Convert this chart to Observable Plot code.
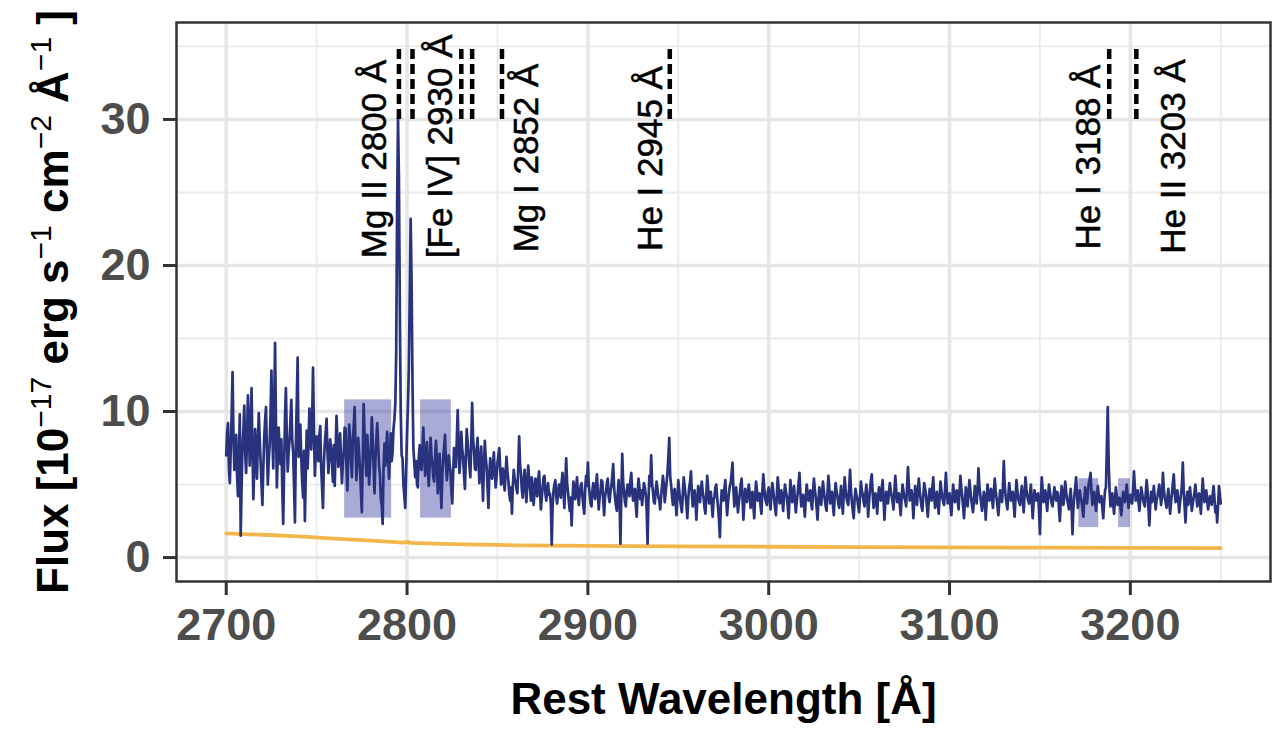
<!DOCTYPE html>
<html>
<head>
<meta charset="utf-8">
<script src="https://cdn.jsdelivr.net/npm/d3@7"></script>
<script src="https://cdn.jsdelivr.net/npm/@observablehq/plot@0.6"></script>
<style>
  html, body { margin: 0; padding: 0; background: white; }
</style>
</head>
<body>
<div id="chart"></div>
<script>
// ---- Data ----
const specStart = 2700; // Å
const specStep = 0.5;   // Å per sample
const specFlux = [
  7.0, 8.6, 9.2, 6.1, 5.1, 7.4, 9.8, 12.7, 8.3, 6.0, 7.9, 8.4, 5.6, 4.2, 6.8, 9.8, 1.5, 4.9, 7.6, 8.8,
  10.4, 7.2, 5.8, 8.1, 11.1, 9.0, 6.3, 8.7, 11.6, 7.5, 4.0, 6.2, 8.8, 7.1, 5.4, 7.9, 9.9, 8.2, 6.6, 5.0,
  3.6, 6.1, 8.2, 9.4, 10.3, 7.3, 5.0, 6.6, 7.7, 9.9, 12.8, 8.5, 6.1, 10.0, 14.7, 9.2, 4.8, 6.9, 8.9, 7.5,
  6.4, 8.1, 4.7, 2.3, 6.0, 9.6, 11.6, 8.3, 5.9, 7.2, 8.0, 9.4, 10.8, 8.1, 7.2, 4.9, 2.4, 7.7, 10.6, 13.7,
  6.9, 8.0, 9.1, 6.8, 5.2, 4.1, 7.3, 2.5, 5.8, 8.7, 6.1, 7.8, 10.2, 8.5, 7.4, 9.3, 13.0, 8.8, 5.6, 7.0,
  8.3, 7.1, 6.6, 8.4, 9.0, 6.2, 4.8, 3.4, 6.5, 7.8, 8.6, 9.5, 7.2, 5.8, 6.9, 8.1, 7.3, 6.4, 5.2, 7.7,
  4.9, 7.4, 9.7, 8.0, 6.2, 7.0, 8.5, 6.6, 5.1, 6.4, 7.3, 8.9, 8.8, 6.2, 4.6, 7.1, 9.1, 8.2, 6.7, 5.5,
  7.9, 9.0, 10.3, 7.6, 5.3, 6.8, 8.2, 7.1, 6.0, 4.5, 3.1, 6.7, 10.5, 8.4, 6.9, 5.6, 8.4, 7.2, 5.0, 6.3,
  7.4, 9.6, 8.1, 6.2, 4.4, 6.7, 8.0, 9.2, 7.8, 6.3, 5.7, 4.0, 3.6, 2.3, 6.1, 7.8, 6.3, 7.4, 8.6, 7.0,
  5.4, 7.0, 8.5, 6.6, 7.2, 8.8, 9.5, 10.5, 14.0, 24.0, 30.1, 26.0, 17.0, 10.0, 7.0, 6.8, 5.0, 4.2, 3.4, 6.0,
  8.5, 10.5, 13.0, 18.0, 23.2, 19.0, 12.0, 7.5, 6.5, 5.5, 6.6, 5.0, 4.8, 6.9, 7.7, 6.2, 6.0, 7.4, 8.9, 7.0,
  5.6, 6.8, 7.9, 6.1, 4.9, 6.3, 8.2, 7.0, 6.4, 5.5, 5.2, 6.8, 8.0, 6.6, 4.4, 5.9, 7.1, 5.2, 3.4, 5.6,
  6.8, 7.6, 8.4, 6.5, 5.3, 6.1, 7.0, 6.4, 5.9, 4.6, 3.7, 5.8, 7.5, 6.9, 6.2, 8.0, 10.1, 7.8, 5.8, 6.7,
  8.6, 7.4, 6.9, 5.6, 4.7, 6.8, 8.8, 7.9, 7.1, 6.3, 5.5, 7.9, 10.6, 8.2, 7.3, 6.1, 6.0, 7.4, 8.2, 6.6,
  5.1, 6.5, 7.6, 5.8, 3.9, 6.2, 8.0, 6.9, 6.2, 4.8, 3.4, 5.7, 6.8, 6.0, 5.4, 6.3, 7.2, 5.9, 4.8, 5.5,
  6.5, 7.0, 7.5, 6.1, 5.0, 5.7, 6.1, 5.2, 4.6, 5.8, 6.9, 5.9, 5.3, 4.4, 3.9, 4.8, 3.0, 4.9, 6.0, 5.4,
  5.2, 4.7, 4.4, 6.2, 8.3, 6.4, 5.7, 4.6, 4.1, 5.3, 6.0, 4.9, 3.8, 5.1, 6.3, 5.4, 4.7, 3.9, 5.5, 4.8,
  3.6, 4.5, 5.4, 4.7, 4.2, 5.3, 5.9, 4.6, 3.3, 4.1, 4.8, 5.5, 5.6, 4.4, 3.9, 4.6, 5.1, 4.3, 4.4, 3.7,
  0.9, 3.5, 4.6, 5.0, 5.3, 4.2, 3.7, 4.4, 5.0, 4.7, 4.1, 5.2, 5.8, 4.5, 3.4, 4.9, 6.8, 5.1, 4.5, 3.8,
  3.2, 4.1, 2.2, 3.9, 5.2, 4.6, 4.0, 4.8, 5.5, 4.3, 3.6, 4.4, 4.9, 5.1, 4.2, 3.5, 3.0, 4.7, 5.6, 4.9,
  6.5, 5.0, 4.3, 3.7, 3.5, 4.6, 5.1, 4.4, 4.0, 4.9, 5.7, 4.5, 3.3, 4.1, 4.6, 5.3, 5.2, 3.9, 2.9, 4.2,
  4.5, 5.1, 5.4, 4.2, 3.8, 4.5, 4.9, 5.6, 6.4, 4.8, 4.1, 3.6, 3.2, 4.4, 5.3, 4.0, 0.95, 4.3, 7.1, 5.2,
  4.4, 3.8, 3.5, 4.6, 5.0, 4.7, 4.2, 5.2, 5.8, 4.5, 3.9, 4.3, 4.7, 3.6, 2.8, 4.4, 5.4, 4.8, 4.0, 4.6,
  3.6, 4.4, 5.1, 4.8, 4.3, 3.3, 0.95, 3.9, 5.6, 4.9, 7.0, 5.1, 4.5, 3.8, 3.7, 4.6, 5.2, 4.7, 4.1, 3.9,
  3.3, 4.2, 4.9, 5.6, 5.0, 3.8, 4.4, 5.1, 5.8, 6.9, 8.2, 5.6, 5.0, 4.3, 3.6, 4.5, 4.7, 3.8, 2.9, 4.1,
  5.3, 4.6, 4.0, 3.5, 3.1, 4.4, 5.5, 4.9, 4.3, 3.6, 2.7, 4.0, 4.8, 5.2, 5.9, 4.4, 3.5, 4.2, 4.6, 3.9,
  2.6, 3.9, 4.9, 4.4, 3.8, 4.6, 5.2, 4.5, 4.1, 3.4, 3.0, 4.3, 5.6, 4.8, 3.7, 4.1, 4.5, 3.6, 2.8, 3.9,
  4.2, 4.8, 5.0, 4.1, 3.4, 2.6, 1.4, 3.5, 4.6, 4.2, 3.9, 4.7, 5.3, 4.0, 2.9, 3.8, 4.4, 4.9, 5.1, 5.8,
  6.5, 4.6, 3.5, 4.2, 4.8, 3.9, 3.1, 3.8, 4.3, 5.0, 5.4, 4.1, 2.6, 3.7, 4.7, 4.2, 3.8, 4.5, 5.0, 4.4,
  3.4, 4.0, 4.5, 3.6, 2.7, 4.1, 5.2, 4.6, 3.9, 4.3, 4.4, 3.5, 3.0, 4.6, 5.7, 4.8, 4.1, 3.8, 3.6, 4.5,
  4.8, 4.0, 3.3, 4.4, 5.1, 4.6, 4.0, 3.4, 2.9, 4.3, 5.5, 4.7, 3.7, 4.1, 4.6, 3.9, 3.2, 4.2, 5.0, 4.5,
  4.2, 3.5, 2.7, 4.0, 5.3, 4.4, 3.8, 4.3, 4.9, 3.9, 3.1, 3.8, 4.4, 5.1, 5.8, 4.5, 3.5, 3.9, 4.3, 3.6,
  2.8, 4.1, 5.0, 4.5, 3.9, 4.2, 4.6, 3.7, 3.3, 4.5, 5.4, 4.7, 4.1, 3.4, 2.6, 3.9, 4.8, 4.2, 3.6, 4.4,
  5.2, 4.6, 4.0, 3.5, 3.2, 4.4, 5.6, 4.8, 3.7, 4.0, 4.5, 3.6, 2.9, 4.2, 5.1, 4.6, 4.2, 3.7, 3.4, 4.1,
  4.9, 3.9, 3.0, 4.3, 5.5, 4.7, 4.1, 3.8, 3.6, 4.8, 6.0, 4.6, 3.8, 3.2, 2.7, 4.0, 4.7, 4.3, 4.0, 3.5,
  3.1, 4.2, 5.2, 4.6, 4.3, 3.8, 3.5, 4.4, 5.0, 4.1, 2.8, 3.9, 4.6, 5.3, 5.7, 4.4, 3.4, 3.9, 4.4, 4.0,
  3.0, 4.1, 4.8, 4.3, 3.9, 4.7, 5.3, 4.0, 2.6, 3.8, 4.5, 4.1, 3.7, 4.5, 5.1, 4.6, 4.2, 3.8, 3.3, 4.5,
  5.6, 4.7, 3.8, 4.0, 4.4, 3.6, 2.9, 4.1, 5.0, 4.6, 4.1, 3.9, 3.5, 4.8, 6.2, 5.0, 3.9, 4.2, 4.6, 4.0,
  2.7, 3.9, 4.9, 4.3, 3.6, 4.5, 5.4, 4.6, 4.0, 3.5, 3.2, 4.2, 5.1, 4.7, 4.3, 3.5, 2.8, 3.9, 4.7, 4.2,
  3.9, 4.8, 5.5, 4.2, 3.4, 3.9, 4.5, 3.7, 3.0, 4.1, 5.2, 4.6, 4.1, 3.8, 3.6, 4.7, 5.8, 4.5, 3.7, 4.0,
  4.4, 3.6, 2.9, 4.0, 5.0, 4.4, 3.8, 4.2, 4.6, 3.9, 3.3, 4.4, 5.6, 4.8, 4.2, 3.5, 2.7, 3.8, 4.8, 4.3,
  3.5, 4.4, 5.3, 4.6, 4.0, 3.5, 3.1, 4.0, 4.9, 4.4, 3.7, 4.6, 6.1, 4.9, 4.3, 3.7, 3.2, 3.9, 4.5, 4.1,
  2.6, 3.8, 5.0, 4.5, 3.9, 4.3, 4.7, 4.0, 3.4, 4.4, 5.4, 4.6, 4.1, 3.5, 2.9, 3.8, 4.6, 4.2, 3.8, 4.7,
  6.6, 5.0, 4.2, 3.7, 3.3, 4.2, 5.1, 4.5, 3.9, 4.2, 4.5, 3.6, 2.8, 4.1, 5.3, 4.6, 4.0, 3.8, 3.6, 4.4,
  4.9, 4.0, 3.1, 4.3, 5.5, 4.7, 4.2, 3.9, 3.7, 4.4, 5.0, 3.9, 2.7, 3.8, 4.6, 4.2, 3.9, 4.3, 4.4, 3.2,
  1.6, 3.9, 5.5, 4.6, 3.8, 4.2, 4.6, 3.9, 3.2, 4.1, 5.0, 4.5, 4.1, 3.7, 3.5, 4.2, 4.8, 4.3, 3.9, 4.5,
  4.4, 3.4, 2.5, 3.8, 4.9, 4.2, 3.6, 4.4, 5.2, 4.5, 4.0, 3.7, 3.3, 4.1, 4.7, 3.5, 1.6, 3.4, 4.2, 4.8,
  5.5, 4.3, 3.4, 4.0, 4.6, 4.2, 3.9, 3.3, 2.8, 3.9, 4.8, 4.4, 3.7, 4.3, 5.1, 5.4, 5.8, 4.5, 3.6, 4.1,
  4.5, 3.9, 3.2, 4.1, 4.9, 4.3, 3.8, 4.0, 4.2, 3.4, 2.7, 3.8, 4.6, 4.8, 7.5, 10.3, 6.5, 4.6, 3.5, 3.9,
  4.4, 3.6, 3.0, 4.0, 4.8, 4.2, 3.6, 3.9, 4.1, 3.5, 2.9, 3.8, 4.5, 4.1, 3.8, 4.4, 5.0, 4.2, 3.4, 3.9,
  4.3, 4.0, 3.7, 4.6, 5.9, 4.8, 3.9, 4.3, 4.6, 3.8, 3.2, 4.0, 4.8, 4.4, 4.0, 3.7, 3.5, 4.4, 5.3, 4.6,
  3.4, 2.2, 3.7, 4.5, 3.8, 4.3, 4.9, 4.1, 3.3, 3.9, 4.2, 4.6, 5.0, 4.3, 3.6, 4.2, 5.8, 4.7, 4.1, 3.8,
  3.4, 4.1, 4.7, 3.9, 3.0, 3.8, 4.4, 5.1, 5.7, 4.5, 3.8, 4.1, 4.6, 3.9, 3.1, 3.8, 4.3, 4.9, 6.5, 4.6,
  3.5, 2.4, 3.8, 4.5, 3.6, 4.2, 4.8, 4.0, 3.2, 3.7, 4.1, 4.5, 5.0, 4.2, 3.5, 4.0, 4.4, 3.8, 3.0, 4.2,
  5.4, 4.5, 3.8, 4.2, 4.6, 3.9, 3.3, 3.8, 4.2, 4.0, 3.6, 4.3, 4.9, 4.1, 3.1, 3.5, 2.4, 3.6, 4.9, 4.3,
  3.7
];

// error spectrum (orange)
const errWave = [2700, 2720, 2740, 2760, 2780, 2798, 2800, 2802, 2820, 2840, 2860, 2880, 2900, 2950, 3000, 3050, 3100, 3150, 3200, 3250];
const errFlux = [1.65, 1.56, 1.45, 1.30, 1.16, 1.02, 1.07, 1.00, 0.93, 0.88, 0.84, 0.82, 0.80, 0.77, 0.74, 0.72, 0.70, 0.68, 0.66, 0.64];

// shaded continuum windows
const boxX1 = [2765.5, 2807.5, 3171.5, 3193.5];
const boxX2 = [2791.5, 2824.5, 3182.5, 3200.0];
const boxY1 = [2.7, 2.7, 2.05, 2.05];
const boxY2 = [10.8, 10.8, 5.4, 5.4];

// line markers (dashed) and their labels
const lineWave = [2795.5, 2803.0, 2830.0, 2836.0, 2852.5, 2945.3, 3188.3, 3203.3];
const markerLow = 30, markerHigh = 35;
const labelText = ["Mg II 2800 Å", "[Fe IV] 2930 Å", "Mg I 2852 Å", "He I 2945 Å", "He I 3188 Å", "He II 3203 Å"];
const labelWave = [2782, 2818.5, 2866, 2935, 3177, 3224];
const labelFluxStart = [20.5, 20.5, 20.9, 21.0, 21.1, 20.8];

// axes
const xMajor = [2700, 2800, 2900, 3000, 3100, 3200];
const xMinor = [2750, 2850, 2950, 3050, 3150, 3250];
const yMajor = [0, 10, 20, 30];
const yMinor = [5, 15, 25, 35];

// ---- Build tables ----
const spec = specFlux.map((f, i) => ({w: specStart + i * specStep, f}));
const err = errWave.map((w, i) => ({w, f: errFlux[i]}));
const boxes = boxX1.map((x1, i) => ({x1, x2: boxX2[i], y1: boxY1[i], y2: boxY2[i]}));
const labels = labelText.map((t, i) => ({t, w: labelWave[i], f: labelFluxStart[i]}));

const FONT = "'Liberation Sans', Arial, Helvetica, sans-serif";

const chart = Plot.plot({
  width: 1288,
  height: 729,
  marginLeft: 176,
  marginRight: 18,
  marginTop: 22,
  marginBottom: 148,
  style: {fontFamily: FONT, background: "white", overflow: "visible"},
  x: {domain: [2672.5, 3277.5], label: null},
  y: {domain: [-1.64, 36.64], label: null},
  marks: [
    Plot.gridX(xMinor, {stroke: "#EBEBEB", strokeOpacity: 1, strokeWidth: 1.8}),
    Plot.gridY(yMinor, {stroke: "#EBEBEB", strokeOpacity: 1, strokeWidth: 1.8}),
    Plot.gridX(xMajor, {stroke: "#E6E6E6", strokeOpacity: 1, strokeWidth: 3.5}),
    Plot.gridY(yMajor, {stroke: "#E6E6E6", strokeOpacity: 1, strokeWidth: 3.5}),
    Plot.rect(boxes, {x1: "x1", x2: "x2", y1: "y1", y2: "y2", fill: "#2B2B99", fillOpacity: 0.4}),
    Plot.line(err, {x: "w", y: "f", stroke: "#F3B64C", strokeWidth: 3.8}),
    Plot.line(spec, {x: "w", y: "f", stroke: "#29337D", strokeWidth: 2.7}),
    Plot.ruleX(lineWave, {y1: markerLow, y2: markerHigh, stroke: "black", strokeWidth: 4.5, strokeDasharray: "10,5"}),
    Plot.text(labels, {x: "w", y: "f", text: "t", rotate: -90, textAnchor: "start", lineAnchor: "middle",
      fontSize: 35, fill: "black", stroke: "black", strokeWidth: 0.5, fontFamily: FONT}),
    Plot.frame({stroke: "#333333", strokeWidth: 2.5}),
    Plot.axisX({ticks: xMajor, tickFormat: d => String(d), tickSize: 14, tickPadding: 13,
      fontSize: 45, fontWeight: "bold", stroke: "#333333", fill: "#4D4D4D", strokeWidth: 3, label: null}),
    Plot.axisY({ticks: yMajor, tickFormat: d => String(d), tickSize: 13, tickPadding: 13,
      fontSize: 45, fontWeight: "bold", stroke: "#333333", fill: "#4D4D4D", strokeWidth: 3, label: null}),
    Plot.text(["Rest Wavelength [Å]"], {frameAnchor: "bottom", dy: 132, lineAnchor: "bottom",
      fontSize: 44, fontWeight: "bold", fill: "black", fontFamily: FONT})
  ]
});

document.getElementById("chart").appendChild(chart);

// y axis title with superscripts
const svg = d3.select(chart);
const yt = svg.append("text")
  .attr("transform", "translate(68,302) rotate(-90)")
  .attr("text-anchor", "middle")
  .attr("font-family", FONT)
  .attr("font-size", 44)
  .attr("font-weight", "bold")
  .attr("fill", "black");
const parts = [
  ["Flux [10", false], ["\u221217", true], [" erg s", false], ["\u22121", true],
  [" cm", false], ["\u22122", true], [" Å", false], ["\u22121", true], [" ]", false]
];
let raised = false;
for (const [txt, sup] of parts) {
  const ts = yt.append("tspan").text(txt);
  if (sup) {
    ts.attr("font-size", 30).attr("font-weight", "normal").attr("dy", raised ? 0 : -17);
    raised = true;
  } else {
    if (raised) ts.attr("dy", 17);
    raised = false;
  }
}
</script>
</body>
</html>
